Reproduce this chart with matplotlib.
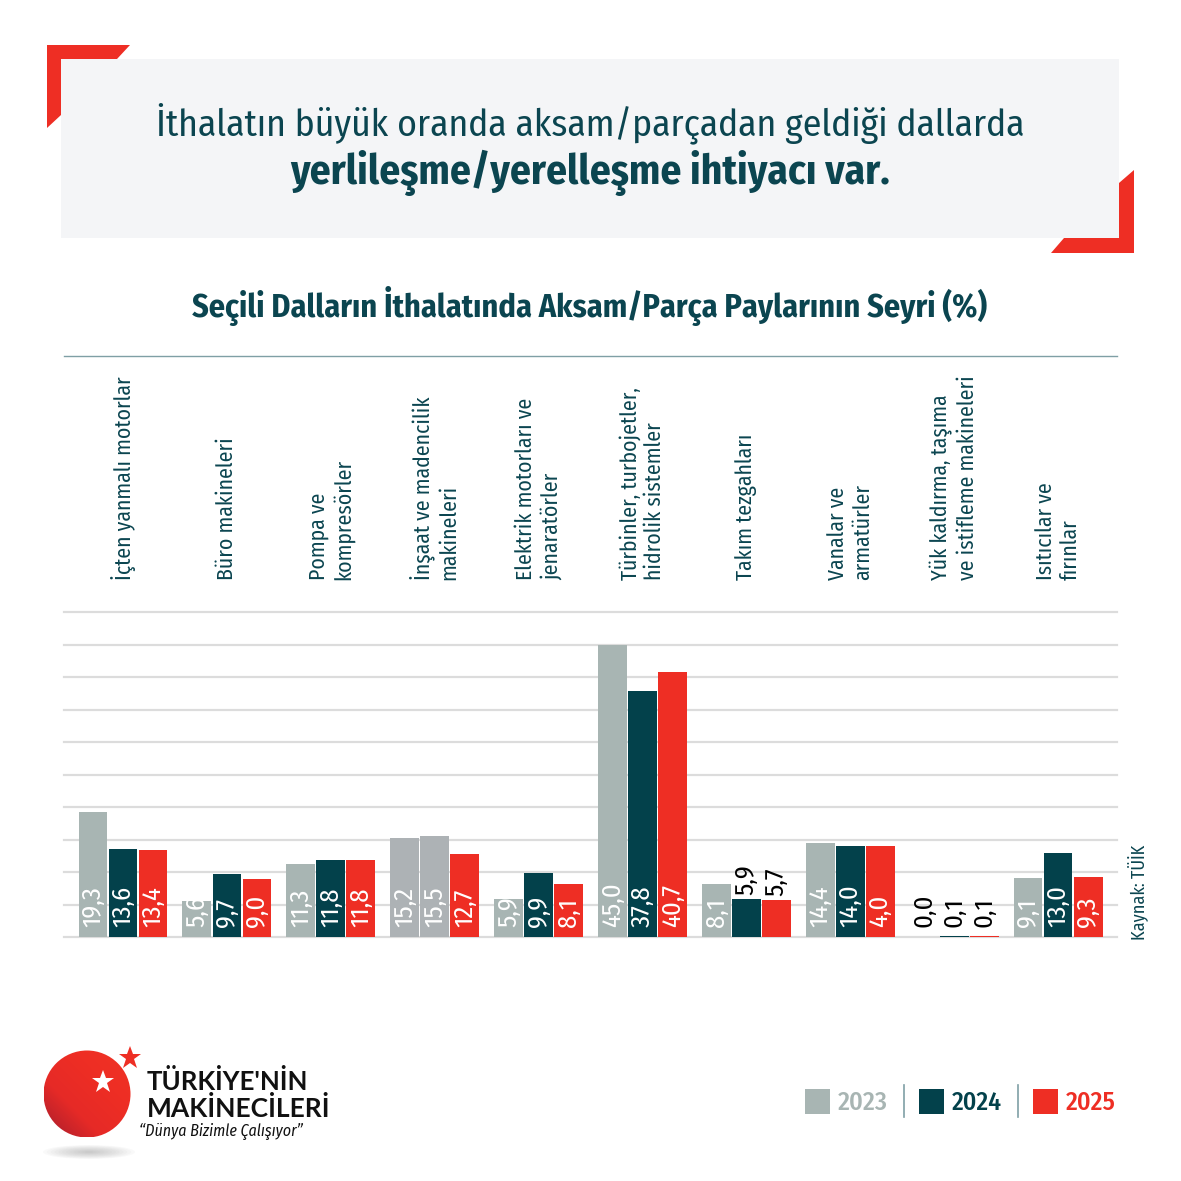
import numpy as np
import matplotlib
matplotlib.use("Agg")
import matplotlib.pyplot as plt
from matplotlib import font_manager as fm
from matplotlib.patches import Polygon, Rectangle, Circle, Ellipse
from matplotlib.lines import Line2D
from matplotlib.colors import LinearSegmentedColormap
import matplotlib.transforms as mtransforms

# ---------------- data ----------------
categories = [
    "İçten yanmalı motorlar",
    "Büro makineleri",
    "Pompa ve\nkompresörler",
    "İnşaat ve madencilik\nmakineleri",
    "Elektrik motorları ve\njenaratörler",
    "Türbinler, turbojetler,\nhidrolik sistemler",
    "Takım tezgahları",
    "Vanalar ve\narmatürler",
    "Yük kaldırma, taşıma\nve istifleme makineleri",
    "Isıtıcılar ve\nfırınlar",
]
years = ["2023", "2024", "2025"]
v2023 = [19.3, 5.6, 11.3, 15.2, 5.9, 45.0, 8.1, 14.4, 0.0, 9.1]
v2024 = [13.6, 9.7, 11.8, 15.5, 9.9, 37.8, 5.9, 14.0, 0.1, 13.0]
v2025 = [13.4, 9.0, 11.8, 12.7, 8.1, 40.7, 5.7, 14.0, 0.1, 9.3]
# printed value labels (as shown in the source, incl. its "4,0")
lab2023 = ["19,3", "5,6", "11,3", "15,2", "5,9", "45,0", "8,1", "14,4", "0,0", "9,1"]
lab2024 = ["13,6", "9,7", "11,8", "15,5", "9,9", "37,8", "5,9", "14,0", "0,1", "13,0"]
lab2025 = ["13,4", "9,0", "11,8", "12,7", "8,1", "40,7", "5,7", "4,0", "0,1", "9,3"]

title1 = "İthalatın büyük oranda aksam/parçadan geldiği dallarda"
title2 = "yerlileşme/yerelleşme ihtiyacı var."
chart_title = "Seçili Dalların İthalatında Aksam/Parça Paylarının Seyri (%)"
source = "Kaynak: TÜİK"

# ---------------- style ----------------
C23, C24, C25 = "#a8b5b3", "#03414b", "#ee2e24"
GREY_ALT = "#adb2b5"
TEAL = "#0b4550"
RED = "#ee2e24"

avail = {f.name for f in fm.fontManager.ttflist}
def pick(*c):
    for n in c:
        if n in avail:
            return n
    return "DejaVu Sans"
FONT = pick("Fira Sans Condensed", "Roboto Condensed", "Open Sans Condensed",
            "Liberation Sans Narrow", "Ubuntu Condensed", "DejaVu Sans Condensed", "Lato")
LOGOFONT = pick("Lato", "Open Sans", "Roboto")
plt.rcParams["font.family"] = [FONT, "DejaVu Sans"]

W = H = 1181
fig = plt.figure(figsize=(W / 100, H / 100), dpi=100)
fig.patch.set_facecolor("white")
renderer = fig.canvas.get_renderer()

def P(x, y):
    return (x / W, 1 - y / H)

def fit(t, target, axis="w"):
    bb = t.get_window_extent(renderer)
    cur = bb.width if axis == "w" else bb.height
    if cur > 0:
        t.set_fontsize(t.get_fontsize() * target / cur)
    return t

# ---------------- header ----------------
fig.add_artist(Polygon([P(47, 45), P(130, 45), P(117, 59), P(61, 59), P(61, 115), P(47, 128)],
                       closed=True, transform=fig.transFigure, color=RED, lw=0))
fig.add_artist(Polygon([P(1134, 170), P(1134, 253), P(1051, 253), P(1064, 238), P(1119, 238), P(1119, 183)],
                       closed=True, transform=fig.transFigure, color=RED, lw=0))
fig.add_artist(Rectangle(P(61, 238), (1119 - 61) / W, (238 - 59) / H,
                         transform=fig.transFigure, color="#f4f5f7", lw=0))
t = fig.text(*P(590, 123), title1, ha="center", va="center", color=TEAL,
             fontsize=26, fontweight="normal")
fit(t, 870)
t = fig.text(*P(590, 173), title2, ha="center", va="center", color=TEAL,
             fontsize=26, fontweight="bold")
fit(t, 600)

t = fig.text(*P(590, 306), chart_title, ha="center", va="center", color=TEAL,
             fontsize=20, fontweight="bold")
fit(t, 795)

fig.add_artist(Line2D([64 / W, 1117 / W], [1 - 356 / H] * 2, transform=fig.transFigure,
                      color="#7f9fa5", lw=1.0))

# ---------------- chart ----------------
ax = fig.add_axes([64 / W, 1 - 937 / H, (1117 - 64) / W, (937 - 612) / H])
ax.set_xlim(-0.568, 9.567)
ax.set_ylim(0, 50)
ax.set_yticks(np.arange(0, 51, 5))
ax.yaxis.grid(True, color="#dcdcdc", lw=1.6)
ax.set_axisbelow(True)
ax.tick_params(left=False, bottom=False, labelleft=False, labelbottom=False)
for s in ax.spines.values():
    s.set_visible(False)
for gl in ax.get_ygridlines():
    gl.set_clip_on(False)

x = np.arange(len(categories))
bw = 0.289
series = [v2023, v2024, v2025]
labels = [lab2023, lab2024, lab2025]
colors = [C23, C24, C25]
for k in range(3):
    cols = [colors[k]] * len(categories)
    if k in (0, 1):
        cols[3] = GREY_ALT  # İnşaat group drawn with grey bars in the source
    ax.bar(x + (k - 1) * bw, series[k], width=bw - 0.012, color=cols, lw=0)

above = {(1, 6), (2, 6)}
base_black = {(0, 8), (1, 8), (2, 8)}
val_texts = []
for k in range(3):
    for i in range(len(categories)):
        xx = x[i] + (k - 1) * bw
        if (k, i) in above:
            y, col = series[k][i] + 0.6, "black"
        elif (k, i) in base_black:
            y, col = 1.55, "black"
        else:
            y, col = 1.55, "white"
        tt = ax.text(xx, y, labels[k][i], rotation=90, ha="center", va="bottom",
                     color=col, fontsize=18, fontweight="normal")
        val_texts.append(tt)
ref = val_texts[0]
bb = ref.get_window_extent(renderer)
vsize = 18 * 41 / bb.height
for tt in val_texts:
    tt.set_fontsize(vsize)

trans = mtransforms.blended_transform_factory(ax.transData, fig.transFigure)
cat_texts = []
for i, c in enumerate(categories):
    tt = ax.text(x[i], 1 - 580 / H, c, transform=trans, rotation=90, ha="center",
                 va="bottom", multialignment="left", color=TEAL, fontsize=14,
                 linespacing=1.2)
    cat_texts.append(tt)
bb = cat_texts[0].get_window_extent(renderer)
csize = 14 * 204 / bb.height
for tt in cat_texts:
    tt.set_fontsize(csize)

t = fig.text(*P(1138, 940), source, rotation=90, ha="center", va="bottom",
             color=TEAL, fontsize=12)
fit(t, 95, axis="h")

# ---------------- legend ----------------
leg_items = [(805, C23, "2023", "normal"), (919, C24, "2024", "bold"), (1033, C25, "2025", "normal")]
for (lx, col, lab, wgt) in leg_items:
    fig.add_artist(Rectangle(P(lx, 1114), 25 / W, 25 / H, transform=fig.transFigure,
                             color=col, lw=0))
    t = fig.text(*P(lx + 33, 1103), lab, ha="left", va="center", color=col,
                 fontsize=16, fontweight="medium")
    fit(t, 50)
for sx in (904, 1018):
    fig.add_artist(Line2D([sx / W] * 2, [1 - 1085 / H, 1 - 1117 / H], transform=fig.transFigure,
                          color="#7f9fa5", lw=1.2))

# ---------------- logo ----------------
lax = fig.add_axes([30 / W, 1 - 1170 / H, 130 / W, 130 / H])
lax.set_xlim(30, 160)
lax.set_ylim(1170, 1040)
lax.axis("off")
for j in range(12, 0, -1):
    lax.add_patch(Ellipse((89, 1152), 92 * j / 12, 14 * j / 12, color="#8a8a8a",
                          alpha=0.045, lw=0))
cx, cy, r = 87, 1094, 43.5
gx, gy = np.meshgrid(np.linspace(0, 1, 200), np.linspace(0, 1, 200))
g = np.clip(((gx) + (1 - gy)) / 2, 0, 1)  # 0 bottom-left ... 1 top-right
cm = LinearSegmentedColormap.from_list("lg", ["#a51d2d", "#e62a27", "#ee2e24", "#ef3325"])
im = lax.imshow(g, cmap=cm, extent=(cx - r, cx + r, cy + r, cy - r), origin="upper",
                interpolation="bilinear", zorder=2)
circ = Circle((cx, cy), r, transform=lax.transData)
im.set_clip_path(circ)
lax.plot([102.7], [1082], marker="*", color="white", markersize=17, mew=0, zorder=3)
lax.plot([130], [1058], marker="*", color=RED, markersize=17, mew=0, zorder=3)

t = fig.text(*P(147, 1090), "TÜRKİYE'NİN", ha="left", va="baseline", color="#111111",
             fontsize=18, fontweight="bold", family=[LOGOFONT, "DejaVu Sans"])
fit(t, 161)
t = fig.text(*P(147, 1117), "MAKİNECİLERİ", ha="left", va="baseline", color="#111111",
             fontsize=18, fontweight="bold", family=[LOGOFONT, "DejaVu Sans"])
fit(t, 184)
t = fig.text(*P(139, 1136), "“Dünya Bizimle Çalışıyor”", ha="left", va="baseline",
             color="#111111", fontsize=11, style="italic")
fit(t, 164)

fig.savefig("out.png", dpi=100, facecolor="white")
